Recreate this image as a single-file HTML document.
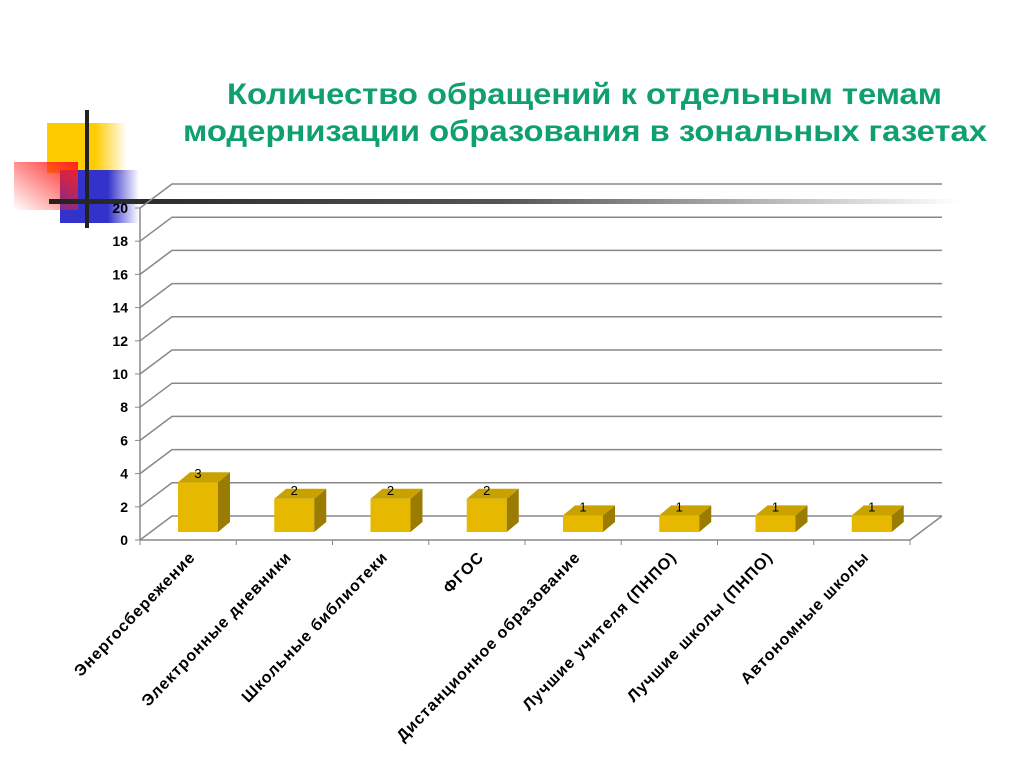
<!DOCTYPE html>
<html><head><meta charset="utf-8"><style>
body{margin:0;width:1024px;height:768px;background:#fff;overflow:hidden;font-family:"Liberation Sans",sans-serif}
</style></head><body>
<svg width="1024" height="768">
<defs>
<linearGradient id="gy" x1="0" x2="1"><stop offset="0.6" stop-color="#ffcc00"/><stop offset="1" stop-color="#ffcc00" stop-opacity="0"/></linearGradient>
<linearGradient id="gb" x1="0" x2="1"><stop offset="0.5" stop-color="#3333cc"/><stop offset="1" stop-color="#3333cc" stop-opacity="0"/></linearGradient>
<linearGradient id="gr" x1="1" y1="0" x2="0" y2="1"><stop offset="0" stop-color="#ff2020"/><stop offset="1" stop-color="#ff2020" stop-opacity="0"/></linearGradient>
<linearGradient id="gl" x1="0" x2="1"><stop offset="0" stop-color="#222"/><stop offset="0.5" stop-color="#555"/><stop offset="1" stop-color="#fff"/></linearGradient>
</defs>
<g>
<rect x="47" y="123" width="80" height="50" fill="url(#gy)"/>
<rect x="77" y="170" width="62" height="53" fill="url(#gb)"/>
<rect x="60" y="170" width="20" height="53" fill="#3333cc"/>
<rect x="14" y="162" width="64" height="48" fill="url(#gr)"/>
<rect x="85" y="110" width="4" height="118" fill="#222"/>
<rect x="49" y="199" width="911" height="5" fill="url(#gl)"/>
</g>
<text font-size="30" font-weight="bold" fill="#10a070"><tspan x="227" y="104" textLength="715" lengthAdjust="spacingAndGlyphs">Количество обращений к отдельным темам</tspan><tspan x="183" y="141" textLength="804" lengthAdjust="spacingAndGlyphs">модернизации образования в зональных газетах</tspan></text>
<g id="plot"></g>
</svg>
<script>
const categories=["Энергосбережение","Электронные дневники","Школьные библиотеки","ФГОС","Дистанционное образование","Лучшие учителя (ПНПО)","Лучшие школы (ПНПО)","Автономные школы"];
const values=[3,2,2,2,1,1,1,1];
const ticks=[0,2,4,6,8,10,12,14,16,18,20];
const NS="http://www.w3.org/2000/svg";
const g=document.getElementById('plot');
const X0=140,X1=910,Y0=540,PU=16.6,DX=32,DY=-24;
const y=v=>Y0-v*PU;
const cw=(X1-X0)/categories.length;
function el(t,a,p){const e=document.createElementNS(NS,t);for(const k in a)e.setAttribute(k,a[k]);(p||g).appendChild(e);return e;}
ticks.forEach(t=>{
 const l=el('polyline',{points:`${X0},${y(t)} ${X0+DX},${y(t)+DY} ${X1+DX},${y(t)+DY}`,fill:'none',stroke:'#888','stroke-width':1.5});
 
 
 el('line',{x1:X0-5,y1:y(t),x2:X0,y2:y(t),stroke:'#888'});
 const tx=el('text',{x:X0-12,y:y(t)+5,'text-anchor':'end','font-size':14,'font-weight':'bold',fill:'#000'});
 tx.textContent=t;
 
 
});
el('line',{x1:X0,y1:y(0),x2:X0,y2:y(20),stroke:'#888','stroke-width':1.5});
el('line',{x1:X0,y1:Y0,x2:X1,y2:Y0,stroke:'#888','stroke-width':1.5});
el('line',{x1:X1,y1:Y0,x2:X1+DX,y2:Y0+DY,stroke:'#888','stroke-width':1.5});
for(let i=0;i<=categories.length;i++)el('line',{x1:X0+i*cw,y1:Y0,x2:X0+i*cw,y2:Y0+5,stroke:'#888'});
values.forEach((v,i)=>{
 const bx=X0+i*cw+38,bw=40,by=Y0-8,top=by-v*PU,sx=12,sy=-10;
 const grp=el('g',{});
 
 
 el('rect',{x:bx,y:top,width:bw,height:by-top,fill:'#e6b800'},grp);
 el('polygon',{points:`${bx+bw},${top} ${bx+bw+sx},${top+sy} ${bx+bw+sx},${by+sy} ${bx+bw},${by}`,fill:'#9a7d00'},grp);
 el('polygon',{points:`${bx},${top} ${bx+sx},${top+sy} ${bx+bw+sx},${top+sy} ${bx+bw},${top}`,fill:'#c9a200'},grp);
 const lb=el('text',{x:bx+bw/2,y:top-4,'text-anchor':'middle','font-size':13,fill:'#000'});
 lb.textContent=v;
 
 
 const cx=X0+i*cw+cw/2+8;
 const t=el('text',{transform:`translate(${cx},${Y0+18}) rotate(-46)`,'text-anchor':'end','font-size':16,'letter-spacing':1,'font-weight':'bold',fill:'#000'});
 t.textContent=categories[i];
 
 
});
</script>
</body></html>
